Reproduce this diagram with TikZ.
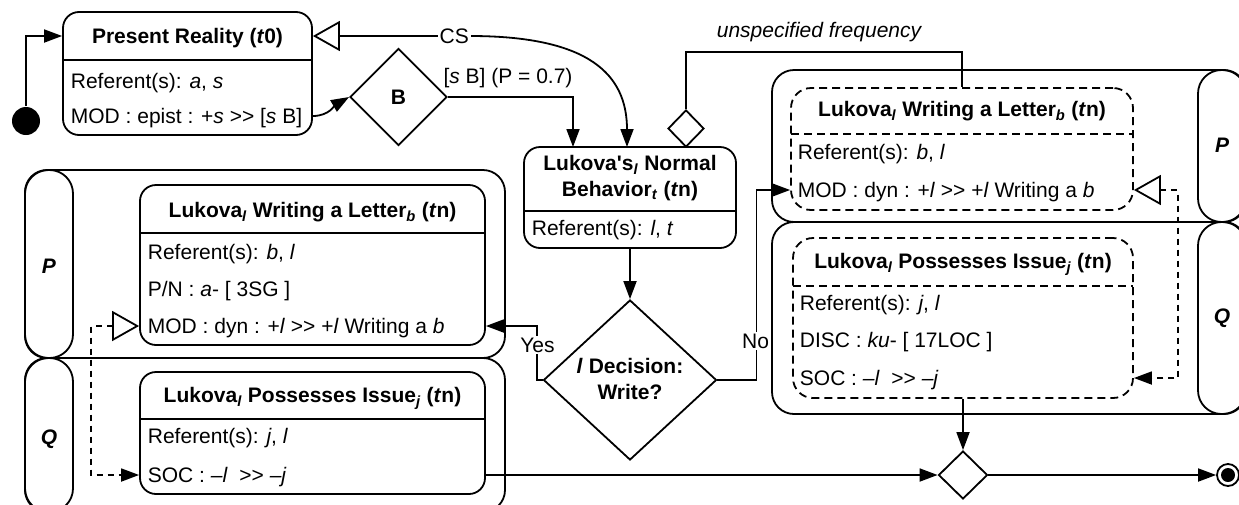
\documentclass[tikz,border=0pt]{standalone}
\usepackage{fontspec}
\setmainfont{Liberation Sans}
\usetikzlibrary{arrows.meta,shapes.geometric}

\tikzset{
  stbox/.style={draw, rectangle, rounded corners=16pt, inner sep=0pt},
  dbox/.style={draw, rectangle, rounded corners=20pt, inner sep=0pt, dash pattern=on 8pt off 5pt},
  lane/.style={draw, rectangle, rounded corners=22pt, inner sep=0pt},
  pill/.style={draw, rectangle, rounded corners=23.5pt, inner sep=0pt, minimum width=48pt},
  gate/.style={draw, diamond, inner sep=0pt, fill=white},
  txt/.style={inner sep=0pt, text height=15pt, text depth=0pt},
  row/.style={txt, anchor=west},
  ttl/.style={txt, font=\bfseries},
  lbl/.style={fill=white, inner sep=2pt},
  flow/.style={-{Triangle[length=18pt,width=13pt]}},
  link/.style={{Triangle[open,length=27pt,width=30pt,fill=white]}-{Triangle[length=18pt,width=13pt]}},
  dlink/.style={link, dash pattern=on 6pt off 5pt},
}

\begin{document}
\fontsize{21}{25}\selectfont
\begin{tikzpicture}[x=1pt, y=-1pt, line width=1.8pt]
\clip (0,0) rectangle (1239,504);

% ---------- swimlanes ----------
\node[lane, minimum width=480pt, minimum height=188pt] (lpl) at (265,264) {};
\node[pill, minimum height=188pt] (lpp) at (49,264) {};
\node[txt, font=\bfseries\itshape] (lppt) at (49,266) {P};
\node[lane, minimum width=480pt, minimum height=154pt] (lql) at (265,435) {};
\node[pill, minimum height=154pt] (lqp) at (49,435) {};
\node[txt, font=\bfseries\itshape] (lqpt) at (49,437) {Q};

\node[lane, minimum width=474pt, minimum height=152pt] (rpl) at (1009,146) {};
\node[pill, minimum height=152pt] (rpp) at (1222,146) {};
\node[txt, font=\bfseries\itshape] (rppt) at (1222,145) {P};
\node[lane, minimum width=474pt, minimum height=192pt] (rql) at (1009,318) {};
\node[pill, minimum height=192pt] (rqp) at (1222,318) {};
\node[txt, font=\bfseries\itshape] (rqpt) at (1222,316) {Q};

% ---------- present reality ----------
\node[stbox, minimum width=249pt, minimum height=123pt] (pr) at (187.5,73.5) {};
\draw (63,60) -- (312,60);
\node[ttl] (prt) at (187.5,36) {Present Reality (\textit{t}0)};
\node[row] (prref) at (70,81) {Referent(s): \textit{a}, \textit{s}};
\node[row] (prmod) at (70,116) {MOD : epist : +\textit{s} >{}> [\textit{s} B]};

\node[circle, fill, minimum size=28pt, inner sep=0pt] (start) at (26,121) {};
\node[gate, minimum width=97pt, minimum height=97pt, font=\bfseries] (gb) at (398.5,97) {B};

% ---------- normal behaviour ----------
\node[stbox, minimum width=212pt, minimum height=101pt] (nb) at (630,197.5) {};
\draw (524,211) -- (736,211);
\node[ttl] (nbt1) at (630,163) {Lukova\textquotesingle s\textsubscript{\textit{l}} Normal};
\node[ttl] (nbt2) at (630,189) {Behavior\textsubscript{\textit{t}} (\textit{t}n)};
\node[row] (nbref) at (531,228) {Referent(s): \textit{l}, \textit{t}};
\node[gate, minimum width=36pt, minimum height=37pt] (sd) at (686,128.5) {};
\coordinate (nbin) at (573,147);
\coordinate (csin) at (627,147);

% ---------- decision ----------
\node[gate, minimum width=173pt, minimum height=160pt] (dec) at (630,380) {};
\node[ttl] (dect1) at (630,366) {\textit{l} Decision:};
\node[ttl] (dect2) at (630,392) {Write?};

% ---------- left lane states ----------
\node[stbox, minimum width=345pt, minimum height=160pt] (lpw) at (312.5,265) {};
\draw (140,233) -- (485,233);
\node[ttl] (lpwt) at (312.5,210) {Lukova\textsubscript{\textit{l}} Writing a Letter\textsubscript{\textit{b}} (\textit{t}n)};
\node[row] (lpref) at (147,252) {Referent(s): \textit{b}, \textit{l}};
\node[row] (lppn) at (147,289) {P/N : \textit{a}- [ 3SG ]};
\node[row] (lpmod) at (147,326) {MOD : dyn : +\textit{l} >{}> +\textit{l} Writing a \textit{b}};

\node[stbox, minimum width=345pt, minimum height=122pt] (lqw) at (312.5,433) {};
\draw (140,419) -- (485,419);
\node[ttl] (lqwt) at (312.5,395) {Lukova\textsubscript{\textit{l}} Possesses Issue\textsubscript{\textit{j}} (\textit{t}n)};
\node[row] (lqref) at (147,436) {Referent(s): \textit{j}, \textit{l}};
\node[row] (lqsoc) at (147,475) {SOC : \textit{–l}\ \ >{}> \textit{–j}};

% ---------- right lane states ----------
\node[dbox, minimum width=342pt, minimum height=122pt] (wb1) at (962,149) {};
\draw[dash pattern=on 8pt off 5pt] (791,134) -- (1133,134);
\node[ttl] (wb1t) at (962,109) {Lukova\textsubscript{\textit{l}} Writing a Letter\textsubscript{\textit{b}} (\textit{t}n)};
\node[row] (wb1ref) at (797,152) {Referent(s): \textit{b}, \textit{l}};
\node[row] (wb1mod) at (797,190) {MOD : dyn : +\textit{l} >{}> +\textit{l} Writing a \textit{b}};

\node[dbox, minimum width=340pt, minimum height=160pt] (wq1) at (963,318) {};
\draw[dash pattern=on 8pt off 5pt] (793,286) -- (1133,286);
\node[ttl] (wq1t) at (963,261) {Lukova\textsubscript{\textit{l}} Possesses Issue\textsubscript{\textit{j}} (\textit{t}n)};
\node[row] (wq1ref) at (799,303) {Referent(s): \textit{j}, \textit{l}};
\node[row] (wq1disc) at (799,340) {DISC : \textit{ku}- [ 17LOC ]};
\node[row] (wq1soc) at (799,378) {SOC : \textit{–l}\ \ >{}> \textit{–j}};

% ---------- merge and end ----------
\node[gate, minimum width=49pt, minimum height=48pt] (mg) at (963,475) {};
\node[circle, draw, minimum size=22pt, inner sep=0pt] (endc) at (1228,475) {};
\fill (endc.center) circle[radius=7pt];

% ---------- connectors ----------
\draw[flow] (start.north) |- (pr.west |- prt);
\draw[flow] (pr.east |- prmod) to[out=0, in=210] (gb.west);
\draw[flow] (gb.east) -| (nbin);
\node (pl) at (508,78) {[\textit{s} B] (P = 0.7)};
\draw[link] (pr.east |- prt) -- node[lbl, pos=0.9] (cs) {CS} (470,36)
  .. controls (590,36) and (627,75) .. (csin);
\draw (sd.north) -- ++(0,-57) -| (wb1.north);
\node[font=\itshape] (uf) at (819,32) {unspecified frequency};

\draw[flow] (nb.south) -- (dec.north);
\draw[flow] (dec.west) -- ++(-6,0) |- (lpw.east |- lpmod);
\node[lbl] (yes) at (537.5,345) {Yes};
\draw[flow] (dec.east) -- ++(39,0) |- (wb1.west |- wb1mod);
\node[lbl] (no) at (755.5,341) {No};

\draw[dlink] (lpw.west |- lpmod) -- ++(-48,0) |- (lqw.west |- lqsoc);
\draw[dlink] (wb1.east |- wb1mod) -- ++(44,0) |- (wq1.east |- wq1soc);

\draw[flow] (lqw.east |- lqsoc) -- (mg.west);
\draw[flow] (wq1.south) -- (mg.north);
\draw[flow] (mg.east) -- (endc.west);
\end{tikzpicture}
\end{document}
